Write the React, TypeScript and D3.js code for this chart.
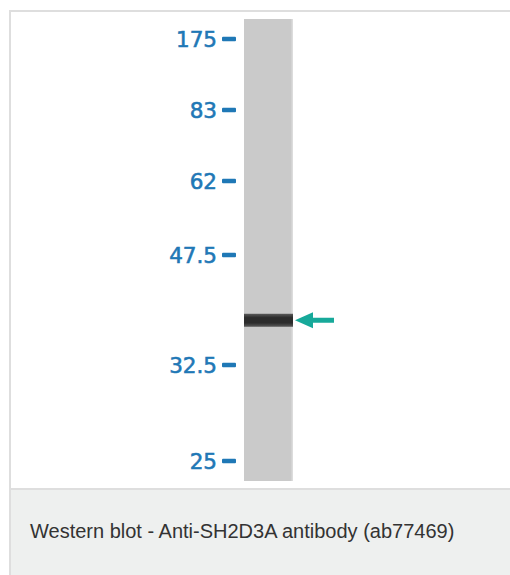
import React from "react";
import * as d3 from "d3";

// Molecular-weight ladder (kDa) and their labels
const markerKDa: number[] = [175, 83, 62, 47.5, 32.5, 25];
const markerLabels: string[] = ["175", "83", "62", "47.5", "32.5", "25"];
// Detected band(s) in kDa
const bandKDa: number[] = [38.6];
const caption = "Western blot - Anti-SH2D3A antibody (ab77469)";

const W = 510;
const H = 575;

export default function App() {
  // Gel migration is non-linear; calibrate with piecewise scale over ladder positions
  const y = d3
    .scaleLinear()
    .domain(markerKDa)
    .range([39, 110, 181, 255, 365, 461]);

  const laneX0 = 244;
  const laneX1 = 293;
  const laneTop = 19;
  const laneBottom = 481;
  const tickX0 = 222;
  const tickX1 = 236;
  const labelColor = "#1f78b6";
  const arrowColor = "#17a99a";

  const arrowPath = (cy: number) => {
    const tip = 295;
    const headLen = 18;
    const headHalf = 8;
    const shaftHalf = 2.6;
    const end = 334;
    return `M${tip},${cy} L${tip + headLen},${cy - headHalf} L${tip + headLen},${cy - shaftHalf} L${end},${cy - shaftHalf} L${end},${cy + shaftHalf} L${tip + headLen},${cy + shaftHalf} L${tip + headLen},${cy + headHalf} Z`;
  };

  return (
    <div style={{ position: "absolute", left: 0, top: 0 }}>
      <svg width={W} height={H} style={{ display: "block" }}>
        <defs>
          <linearGradient id="bandGrad" x1="0" y1="0" x2="0" y2="1">
            <stop offset="0" stopColor="#5a5a5a" />
            <stop offset="0.3" stopColor="#2c2c2c" />
            <stop offset="0.7" stopColor="#2c2c2c" />
            <stop offset="1" stopColor="#5a5a5a" />
          </linearGradient>
        </defs>
        <rect x={0} y={0} width={W} height={H} fill="#ffffff" />
        {/* frame */}
        <rect x={10} y={11} width={W + 20} height={H + 20} fill="#ffffff" stroke="#dedede" strokeWidth={2} />
        {/* caption area */}
        <rect x={10} y={489} width={W + 20} height={H} fill="#eef0ef" stroke="#dedede" strokeWidth={2} />
        <text
          x={30}
          y={538}
          fontFamily="'Liberation Sans', Arial, sans-serif"
          fontSize={20}
          fill="#333333"
        >
          {caption}
        </text>
        {/* lane */}
        <rect x={laneX0} y={laneTop} width={laneX1 - laneX0} height={laneBottom - laneTop} fill="#cacaca" />
        <rect x={laneX1 - 1.5} y={laneTop} width={1.5} height={laneBottom - laneTop} fill="#dcdcdc" />
        {/* ladder */}
        {markerKDa.map((k, i) => (
          <g key={markerLabels[i]}>
            <rect x={tickX0} y={y(k) - 2.2} width={tickX1 - tickX0} height={4.4} rx={1} fill={labelColor} />
            <text
              x={217}
              y={y(k)}
              dy="0.37em"
              textAnchor="end"
              fontFamily="'DejaVu Sans', sans-serif"
              fontSize={21.5}
              fill={labelColor}
              stroke={labelColor}
              strokeWidth={0.6}
            >
              {markerLabels[i]}
            </text>
          </g>
        ))}
        {/* bands and arrows */}
        {bandKDa.map((k) => (
          <g key={k}>
            <rect x={laneX0} y={y(k) - 6.5} width={laneX1 - laneX0} height={13} fill="url(#bandGrad)" />
            <path d={arrowPath(y(k))} fill={arrowColor} />
          </g>
        ))}
      </svg>
    </div>
  );
}
